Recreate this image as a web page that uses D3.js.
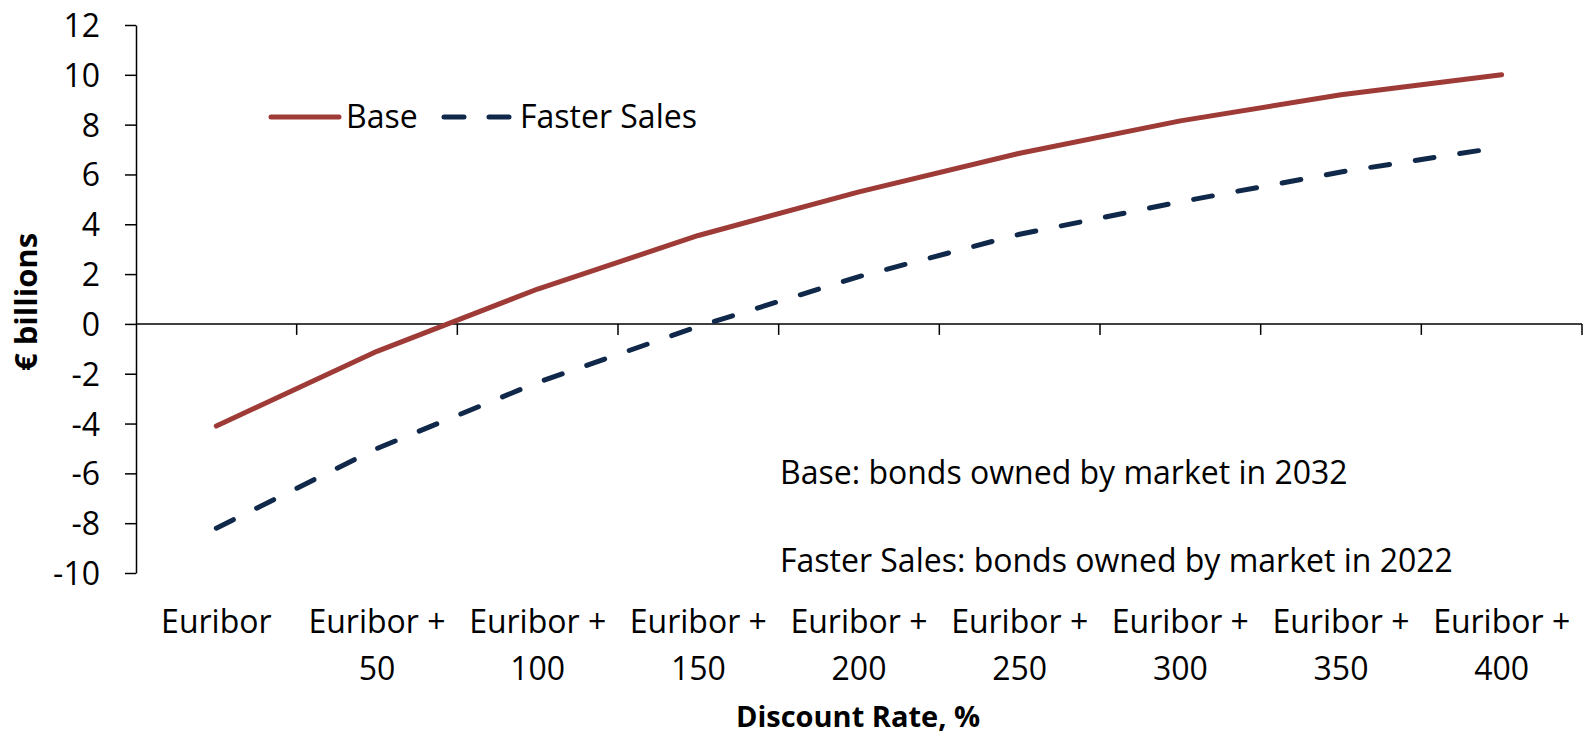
<!DOCTYPE html>
<html>
<head>
<meta charset="utf-8">
<script src="https://cdn.jsdelivr.net/npm/d3@7"></script>
<style>
  body { margin: 0; background: #fff; }
  svg { display: block; font-family: "Open Sans", sans-serif; }
</style>
</head>
<body>
<svg width="1586" height="737"></svg>
<script>
// categories and series
const categories = ["Euribor", "Euribor + 50", "Euribor + 100", "Euribor + 150", "Euribor + 200",
  "Euribor + 250", "Euribor + 300", "Euribor + 350", "Euribor + 400"];
const xLabelLines = [["Euribor"], ["Euribor +", "50"], ["Euribor +", "100"], ["Euribor +", "150"],
  ["Euribor +", "200"], ["Euribor +", "250"], ["Euribor +", "300"], ["Euribor +", "350"], ["Euribor +", "400"]];
const baseValues = [-4.1, -1.1, 1.4, 3.55, 5.3, 6.85, 8.15, 9.2, 10.0];
const fasterValues = [-8.2, -5.0, -2.35, -0.1, 1.9, 3.6, 4.9, 6.1, 7.1];
const yTicks = [-10, -8, -6, -4, -2, 0, 2, 4, 6, 8, 10, 12];
const notes = ["Base: bonds owned by market in 2032", "Faster Sales: bonds owned by market in 2022"];

const baseColor = "#9e3b37";
const fasterColor = "#10284a";
const fontSize = "32px";

let svg = d3.select("svg");

let x = d3.scaleBand().domain(categories).range([136, 1582]);
let y = d3.scaleLinear().domain([-10, 12]).range([573, 25]);

// y axis, plain hyphen for negatives like the original
let yAxis = svg
  .append("g")
  .attr("transform", "translate(136,0)")
  .call(
    d3
      .axisLeft(y)
      .tickValues(yTicks)
      .tickFormat((d) => String(d))
      .tickSize(11)
      .tickSizeOuter(0)
      .tickPadding(25)
  );
yAxis.select(".domain").attr("stroke", "#000").attr("stroke-width", 1.5);
yAxis.selectAll(".tick line").attr("stroke", "#000").attr("stroke-width", 1.5);
yAxis
  .selectAll(".tick text")
  .attr("font-family", "Open Sans")
  .attr("font-size", fontSize)
  .attr("fill", "#000")
  .attr("dy", "0.36em");

// x axis sits on zero, ticks at category boundaries
let bounds = categories.map((c) => x(c)).concat([x.range()[1]]);
let xAxis = svg.append("g").attr("transform", `translate(0,${y(0)})`);
xAxis
  .append("line")
  .attr("x1", x.range()[0])
  .attr("x2", x.range()[1])
  .attr("stroke", "#000")
  .attr("stroke-width", 1.5);
xAxis
  .selectAll(".xtick")
  .data(bounds.slice(1))
  .join("line")
  .attr("class", "xtick")
  .attr("x1", (d) => d)
  .attr("x2", (d) => d)
  .attr("y1", 0)
  .attr("y2", 11)
  .attr("stroke", "#000")
  .attr("stroke-width", 1.5);

// category labels below the plot
let labels = svg
  .append("g")
  .selectAll("text")
  .data(categories)
  .join("text")
  .attr("text-anchor", "middle")
  .attr("font-size", fontSize)
  .attr("fill", "#000");
labels
  .selectAll("tspan")
  .data((d, i) => xLabelLines[i].map((t) => ({ t, c: d })))
  .join("tspan")
  .attr("x", (d) => x(d.c) + x.bandwidth() / 2)
  .attr("y", (d, j) => 633 + j * 47)
  .text((d) => d.t);

// axis titles
svg
  .append("text")
  .attr("x", 858)
  .attr("y", 727)
  .attr("text-anchor", "middle")
  .attr("font-size", "29px")
  .attr("font-weight", "700")
  .text("Discount Rate, %");
svg
  .append("text")
  .attr("transform", "translate(37,302) rotate(-90)")
  .attr("text-anchor", "middle")
  .attr("font-size", "31px")
  .attr("font-weight", "700")
  .text("€ billions");

// lines
let line = d3
  .line()
  .x((d, i) => x(categories[i]) + x.bandwidth() / 2)
  .y((d) => y(d));

svg
  .append("path")
  .datum(baseValues)
  .attr("d", line)
  .attr("fill", "none")
  .attr("stroke", baseColor)
  .attr("stroke-width", 5)
  .attr("stroke-linecap", "round")
  .attr("stroke-linejoin", "round");

svg
  .append("path")
  .datum(fasterValues)
  .attr("d", line)
  .attr("fill", "none")
  .attr("stroke", fasterColor)
  .attr("stroke-width", 5)
  .attr("stroke-dasharray", "19,26")
  .attr("stroke-linecap", "round")
  .attr("stroke-linejoin", "round");

// legend
let legend = svg.append("g");
legend
  .append("line")
  .attr("x1", 271)
  .attr("x2", 339)
  .attr("y1", 117)
  .attr("y2", 117)
  .attr("stroke", baseColor)
  .attr("stroke-width", 5)
  .attr("stroke-linecap", "round");
legend
  .append("text")
  .attr("x", 346)
  .attr("y", 128)
  .attr("font-size", fontSize)
  .text("Base");
legend
  .append("line")
  .attr("x1", 444)
  .attr("x2", 512)
  .attr("y1", 117)
  .attr("y2", 117)
  .attr("stroke", fasterColor)
  .attr("stroke-width", 5)
  .attr("stroke-dasharray", "20,25")
  .attr("stroke-linecap", "round");
legend
  .append("text")
  .attr("x", 520)
  .attr("y", 128)
  .attr("font-size", fontSize)
  .text("Faster Sales");

// notes
svg
  .append("g")
  .selectAll("text")
  .data(notes)
  .join("text")
  .attr("x", 780)
  .attr("y", (d, i) => 484 + i * 88)
  .attr("font-size", fontSize)
  .text((d) => d);
</script>
</body>
</html>
